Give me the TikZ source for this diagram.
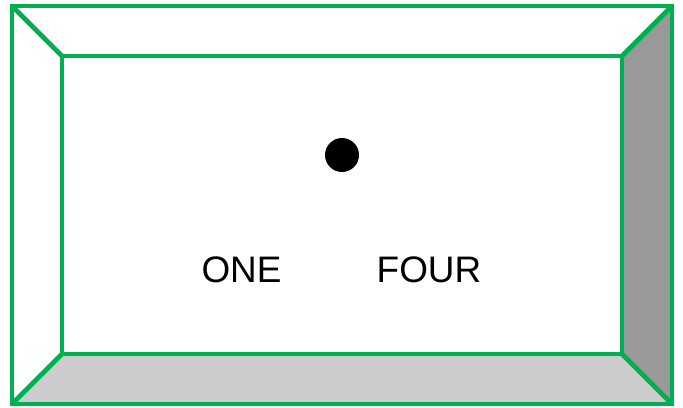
\documentclass[tikz,border=0pt]{standalone}
\usepackage{fontspec}
\setmainfont{Liberation Sans}
\usetikzlibrary{positioning}
\definecolor{framegreen}{HTML}{00B050}
\definecolor{sidegray}{HTML}{999999}
\definecolor{floorgray}{HTML}{CCCCCC}
\tikzset{frameline/.style={draw=framegreen,line width=2.8pt},
  word/.style={font=\fontsize{21}{25}\selectfont,inner sep=0pt,anchor=base}}
\begin{document}
\begin{tikzpicture}[x=0.02cm,y=-0.02cm]
\useasboundingbox (0,0) rectangle (683,407);
% shaded sides
\fill[sidegray] (622,56) -- (672,6) -- (672,404) -- (622,354) -- cycle;
\fill[floorgray] (62,354) -- (622,354) -- (672,404) -- (12,404) -- cycle;
% frame
\draw[frameline] (12,6) rectangle (672,404);
\draw[frameline] (62,56) rectangle (622,354);
\draw[frameline] (12,6) -- (62,56);
\draw[frameline] (672,6) -- (622,56);
\draw[frameline] (12,404) -- (62,354);
\draw[frameline] (672,404) -- (622,354);
% contents
\node[circle,fill=black,inner sep=0pt,minimum size=0.68cm] (dot) at (342,155) {};
\node[word] (one) at (241.5,282) {ONE};
\node[word] (four) at (429,282) {FOUR};
\end{tikzpicture}
\end{document}
